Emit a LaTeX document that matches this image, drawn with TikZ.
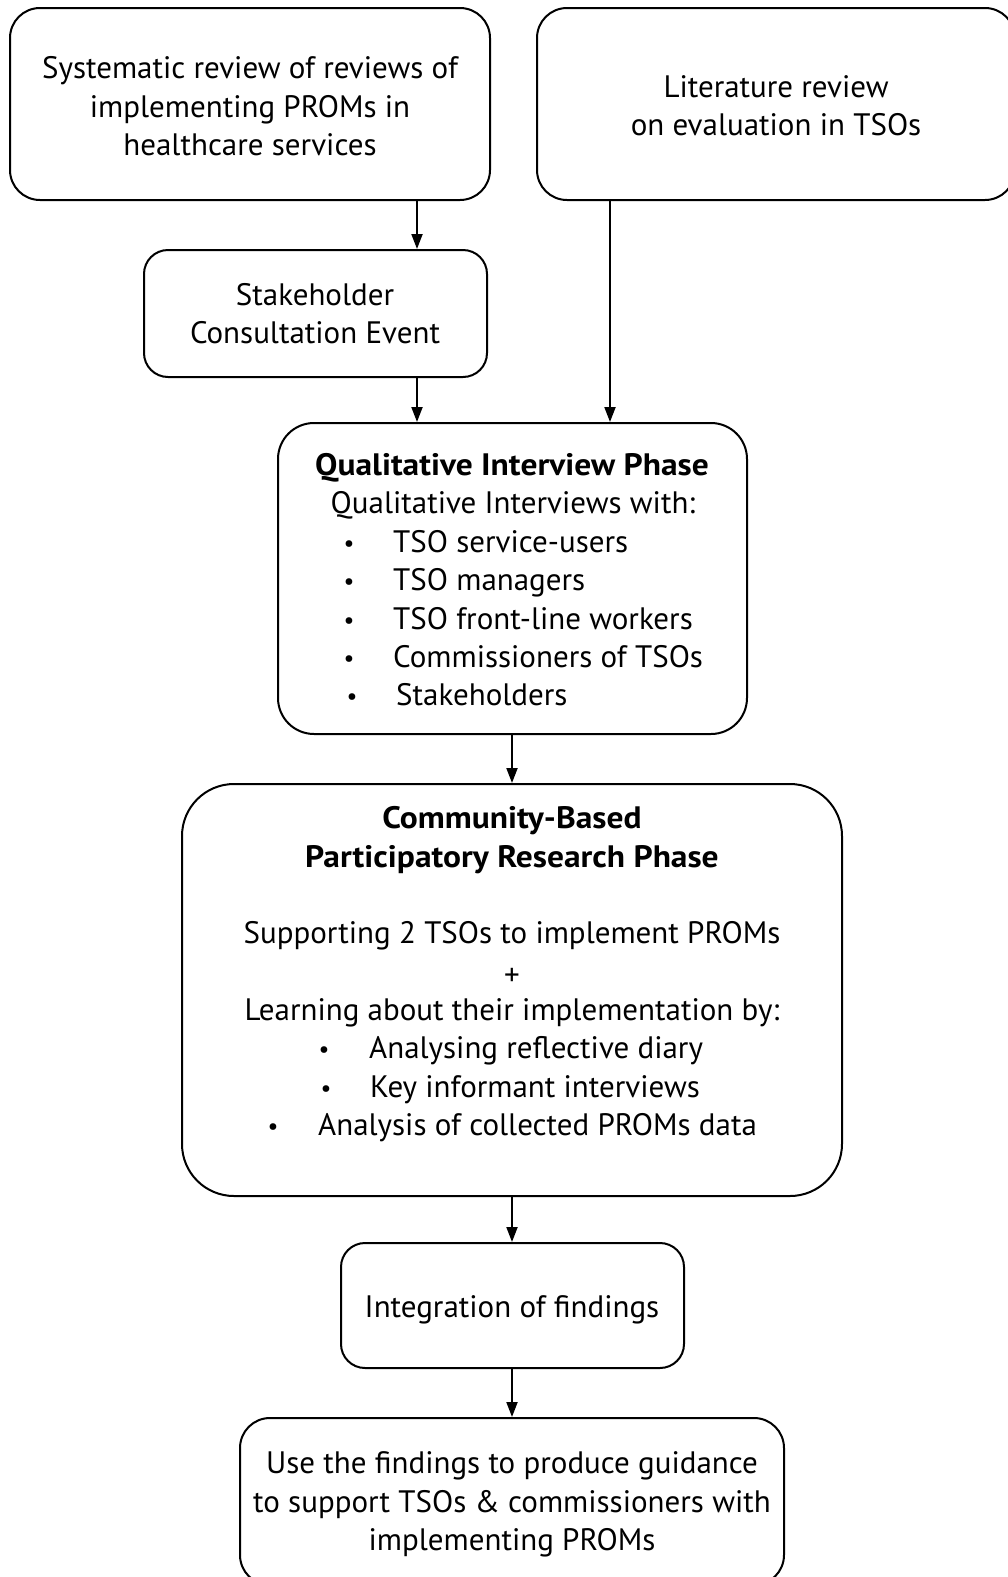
\documentclass[tikz,border=0pt]{standalone}
\usepackage{fontspec}
\setmainfont{PT Sans}[BoldFeatures={FakeStretch=1.08}]
\usetikzlibrary{arrows.meta}
\begin{document}
\begin{tikzpicture}[x=1pt,y=-1pt,
  box/.style={draw,line width=2pt,rounded corners=#1,inner sep=0pt},
  box/.default=28pt,
  txt/.style={anchor=base,inner sep=0pt,font=\fontsize{31}{37}\selectfont},
  btxt/.style={anchor=base,inner sep=0pt,font=\fontsize{31}{37}\selectfont\bfseries},
  lt/.style={anchor=base west,inner sep=0pt,font=\fontsize{31}{37}\selectfont},
  bul/.style={anchor=base,inner sep=0pt,font=\fontsize{24}{24}\selectfont},
  arr/.style={line width=2pt,-{Triangle[length=15pt,width=11pt]}}]
\clip (0,0) rectangle (1008,1577);
% boxes
\node[box=30pt,minimum width=480pt,minimum height=192pt] (b1) at (250,104) {};
\node[box=30pt,minimum width=478pt,minimum height=192pt] (lit) at (776,104) {};
\node[box=24pt,minimum width=343pt,minimum height=127pt] (stake) at (315.5,313.5) {};
\node[box=36pt,minimum width=469pt,minimum height=311pt] (qip) at (512.5,578.5) {};
\node[box=52pt,minimum width=660pt,minimum height=412pt] (cbpr) at (512,990) {};
\node[box=24pt,minimum width=343pt,minimum height=125pt] (integ) at (512.5,1305.5) {};
\node[box=30pt,minimum width=544pt,minimum height=167pt] (use) at (512,1501.5) {};
% texts
\node[txt] (t1a) at (250,78) {Systematic review of reviews of};
\node[txt] (t1b) at (250,117) {implementing PROMs in};
\node[txt] (t1c) at (250,155) {healthcare services};
\node[txt] (t2a) at (776,97) {Literature review};
\node[txt] (t2b) at (776,135) {on evaluation in TSOs};
\node[txt] (t3a) at (315,305) {Stakeholder};
\node[txt] (t3b) at (315,343) {Consultation Event};
\node[btxt] (t4a) at (512,475) {Qualitative Interview Phase};
\node[txt] (t4b) at (513,513) {Qualitative Interviews with:};
\node[bul] (b4c) at (349,551) {•}; \node[lt] (t4c) at (393,552) {TSO service-users};
\node[bul] (b4d) at (349,589) {•}; \node[lt] (t4d) at (393,590) {TSO managers};
\node[bul] (b4e) at (349,628) {•}; \node[lt] (t4e) at (393,629) {TSO front-line workers};
\node[bul] (b4f) at (349,666) {•}; \node[lt] (t4f) at (393,667) {Commissioners of TSOs};
\node[bul] (b4g) at (352,704) {•}; \node[lt] (t4g) at (396,705) {Stakeholders};
\node[btxt] (t5a) at (512,828) {Community-Based};
\node[btxt] (t5b) at (512,867) {Participatory Research Phase};
\node[txt] (t5c) at (512,943) {Supporting 2 TSOs to implement PROMs};
\node[txt] (t5d) at (512,985) {+};
\node[txt] (t5e) at (512,1020) {Learning about their implementation by:};
\node[bul] (b5f) at (324,1057) {•}; \node[lt] (t5f) at (369,1058) {Analysing reflective diary};
\node[bul] (b5g) at (326,1096) {•}; \node[lt] (t5g) at (370,1097) {Key informant interviews};
\node[bul] (b5h) at (273,1134) {•}; \node[lt] (t5h) at (318,1135) {Analysis of collected PROMs data};
\node[txt] (t6) at (512,1317) {Integration of findings};
\node[txt] (t7a) at (512,1473) {Use the findings to produce guidance};
\node[txt] (t7b) at (512,1512) {to support TSOs \& commissioners with};
\node[txt] (t7c) at (512,1550) {implementing PROMs};
% connectors
\coordinate (xa) at (417,0);
\coordinate (xb) at (610,0);
\coordinate (xc) at (512,0);
\draw[arr] (b1.south -| xa) -- (stake.north -| xa);
\draw[arr] (stake.south -| xa) -- (qip.north -| xa);
\draw[arr] (lit.south -| xb) -- (qip.north -| xb);
\draw[arr] (qip.south -| xc) -- (cbpr.north -| xc);
\draw[arr] (cbpr.south -| xc) -- (integ.north -| xc);
\draw[arr] (integ.south -| xc) -- (use.north -| xc);
\end{tikzpicture}
\end{document}
